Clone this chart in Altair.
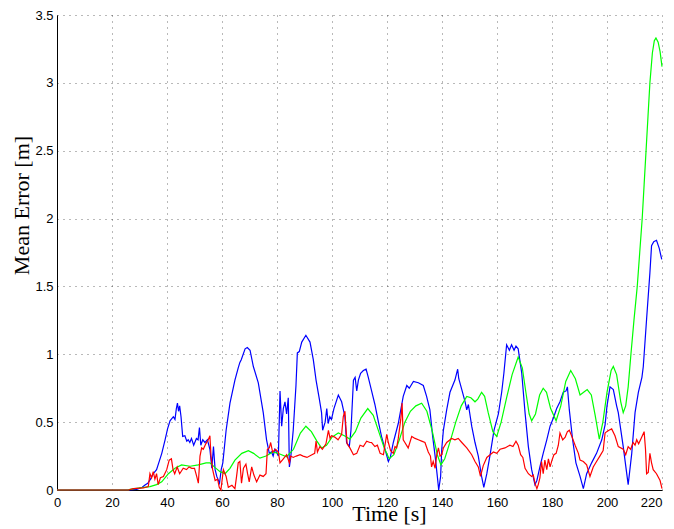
import altair as alt
import pandas as pd

# ---- data ----
blue_t = [0, 26, 29, 31, 32, 33, 34, 35, 36.2, 37, 38.1, 39.3, 40.2, 41.1, 42.3, 42.9, 43.4, 43.8, 44.2, 44.6,
          45.1, 45.7, 46.5, 47.2, 47.7, 48.3, 48.9, 49.7, 50.7, 51.3, 51.8, 52.3, 53, 53.8, 54.7, 55.6, 56.3, 56.9,
          57.5, 58.1, 59.1, 59.7, 60.3, 61.5, 62.9, 64.7, 65.9, 66.5, 67, 68.4, 69.2, 70.2, 71.4, 73.2, 75, 76.2,
          77.2, 78, 78.6, 79.2, 79.8, 80.5, 81.1, 81.7, 82.3, 82.9, 83.5, 84.1, 84.5, 85, 85.9, 86.9, 87.4, 88.1,
          89, 90.5, 92, 93.2, 94.2, 95.4, 96.2, 96.6, 97.5, 98.1, 98.6, 99.2, 99.8, 100.7, 102.3, 103.5, 104.7,
          105.3, 106.3, 106.9, 107.8, 108.4, 109, 109.6, 110.4, 111.4, 112.4, 113.2, 114.4, 115.6, 116.8, 118,
          119.3, 120.5, 121.2, 122.3, 124.1, 125.9, 127.2, 128.1, 129.6, 131.4, 133.2, 134.4, 135.6, 136.6, 137.5,
          138.3, 138.8, 139.5, 139.9, 140.5, 141.7, 142.9, 144.7, 145.7, 146.1, 147.2, 148.4, 149, 149.6, 150.8,
          152, 153.2, 154.4, 155.2, 156.3, 157.5, 158.9, 160.5, 161.7, 162.5, 163.5, 164.5, 165.3, 166.2, 166.9,
          167.7, 169, 170.2, 171.4, 172.6, 173.8, 174.5, 175.6, 176.8, 178.1, 179.3, 180.5, 181.7, 182.9, 184.1,
          185.1, 185.6, 186.3, 187.5, 188.7, 190.2, 191.4, 192.6, 194.4, 196.2, 198.1, 199.3, 200, 201.1, 202.3,
          203.5, 204.1, 205.9, 207.7, 209, 210.2, 211.4, 212.7, 213.2, 214.4, 215.6, 216.2, 217, 218, 219, 219.9]
blue_v = [0, 0, 0.005, 0.02, 0.037, 0.05, 0.08, 0.12, 0.15, 0.2, 0.27, 0.37, 0.45, 0.51, 0.54, 0.52, 0.6, 0.64,
          0.58, 0.62, 0.54, 0.395, 0.40, 0.36, 0.37, 0.35, 0.38, 0.33, 0.38, 0.37, 0.46, 0.33, 0.37, 0.35, 0.37,
          0.30, 0.16, 0.32, 0.15, 0.10, 0.05, 0.15, 0.20, 0.44, 0.64, 0.81, 0.90, 0.94, 0.96, 1.04, 1.05, 1.03,
          0.91, 0.79, 0.57, 0.37, 0.27, 0.28, 0.25, 0.30, 0.28, 0.25, 0.73, 0.47, 0.60, 0.65, 0.56, 0.68, 0.17,
          0.24, 0.44, 0.77, 1.01, 1.02, 1.09, 1.14, 1.09, 0.96, 0.81, 0.67, 0.57, 0.44, 0.50, 0.60, 0.49, 0.54,
          0.52, 0.60, 0.70, 0.65, 0.54, 0.35, 0.32, 0.44, 0.81, 0.83, 0.73, 0.81, 0.86, 0.88, 0.89, 0.83, 0.73,
          0.63, 0.51, 0.395, 0.30, 0.21, 0.24, 0.35, 0.49, 0.69, 0.77, 0.75, 0.80, 0.79, 0.77, 0.69, 0.59, 0.395,
          0.25, 0.10, 0.0, 0.10, 0.30, 0.44, 0.59, 0.72, 0.81, 0.89, 0.82, 0.74, 0.65, 0.59, 0.63, 0.47, 0.35,
          0.25, 0.10, 0.02, 0.12, 0.26, 0.44, 0.56, 0.72, 0.86, 1.07, 1.03, 1.07, 1.03, 1.06, 1.04, 0.86, 0.57,
          0.32, 0.15, 0.04, 0.07, 0.17, 0.27, 0.37, 0.47, 0.53, 0.60, 0.65, 0.72, 0.73, 0.76, 0.59, 0.37, 0.20,
          0.10, 0.01, 0.12, 0.20, 0.27, 0.37, 0.48, 0.62, 0.76, 0.74, 0.62, 0.57, 0.32, 0.04, 0.27, 0.57, 0.72,
          0.83, 0.91, 1.26, 1.60, 1.80, 1.83, 1.84, 1.78, 1.70]

green_t = [0, 26, 26.5, 30.2, 33.8, 36.2, 38.1, 40.5, 42.9, 45.3, 48.4, 51.4, 54.2, 55.6, 57.5, 59.3, 61.1, 62.9,
           64.7, 67.2, 69.6, 71.5, 73.8, 76, 78.6, 81, 83.5, 86, 88.5, 90.5, 92.5, 94.5, 96.2, 98, 100, 102.3,
           104.5, 106.5, 108.5, 110.5, 113, 115, 117, 119, 120.8, 122.5, 124.5, 126.5, 128.5, 130.5, 132.6, 134.5,
           136.5, 138.3, 139.6, 141, 143, 145, 147, 149, 150.5, 152, 153, 154.4, 155.5, 156.8, 158.5, 159.9, 161.5,
           163.5, 165.5, 167.7, 169.2, 170.5, 171.7, 172.6, 174, 175.5, 176.8, 178, 179.5, 181.5, 183.2, 185, 186.8,
           188.5, 190.2, 191.5, 192.8, 194.3, 195.7, 197.2, 198.5, 200, 201.5, 202.3, 203.5, 205, 205.9, 206.8,
           207.7, 208.7, 209.8, 211, 211.9, 212.8, 213.5, 214.2, 214.9, 215.6, 216.5, 217.2, 217.8, 218.6, 219.3, 220]
green_v = [0, 0, 0.005, 0.015, 0.025, 0.04, 0.06, 0.12, 0.16, 0.185, 0.175, 0.185, 0.20, 0.20, 0.165, 0.135, 0.12,
           0.16, 0.22, 0.27, 0.29, 0.27, 0.235, 0.25, 0.28, 0.265, 0.245, 0.30, 0.42, 0.47, 0.43, 0.36, 0.31, 0.33,
           0.39, 0.42, 0.40, 0.375, 0.43, 0.53, 0.60, 0.55, 0.43, 0.31, 0.23, 0.26, 0.37, 0.50, 0.58, 0.62, 0.64,
           0.58, 0.43, 0.26, 0.185, 0.23, 0.36, 0.50, 0.62, 0.69, 0.68, 0.65, 0.67, 0.72, 0.69, 0.57, 0.43, 0.395,
           0.50, 0.68, 0.85, 0.98, 0.90, 0.72, 0.56, 0.51, 0.56, 0.70, 0.75, 0.72, 0.60, 0.51, 0.62, 0.80, 0.88,
           0.82, 0.70, 0.72, 0.74, 0.70, 0.55, 0.375, 0.50, 0.72, 0.88, 0.91, 0.85, 0.65, 0.57, 0.62, 0.76, 1.0,
           1.25, 1.5, 1.75, 2.0, 2.25, 2.5, 2.75, 3.0, 3.22, 3.31, 3.33, 3.3, 3.23, 3.12]

red_t = [0, 26, 27.7, 31.4, 33.2, 33.8, 34.4, 35, 35.6, 36.2, 36.8, 37.6, 38.7, 39.9, 40.8, 41.6, 42.2, 42.8, 43.7,
         44.6, 45.9, 47.1, 48, 49, 50, 50.8, 51.4, 52, 52.6, 53.2, 54.1, 55, 55.6, 56, 56.6, 57.5, 58.4, 59, 59.6,
         60.5, 61.5, 62.3, 63.6, 64.7, 65.3, 65.9, 66.5, 67.1, 67.8, 68.7, 69.3, 69.9, 70.8, 71.6, 72.6, 73.8, 75,
         76, 76.5, 77.2, 77.7, 78.4, 79.5, 80.5, 81.1, 82.3, 83.5, 84.5, 85, 85.9, 87, 88.4, 89.5, 90.9, 92.7, 93.7,
         94.2, 94.7, 95.6, 96.5, 97.8, 98.7, 99.3, 99.8, 101, 102.2, 103.5, 104.1, 104.7, 105, 105.5, 106.5, 107.8,
         109, 110.2, 111.4, 112.6, 113.8, 114.4, 115.6, 116.5, 117.5, 118.7, 119.9, 120.5, 121.3, 122.3, 122.9,
         123.5, 124.1, 125, 125.5, 125.9, 126.5, 127.7, 129, 130.2, 131.4, 132.6, 133.8, 135, 135.8, 136.2, 136.8,
         137.5, 138.1, 138.7, 139.3, 139.9, 140.5, 141.7, 143.5, 144.7, 145.9, 147.2, 149, 150.8, 152, 153.2, 154,
         155, 156.3, 157.5, 158.7, 159.9, 161.1, 162.9, 164.7, 165.8, 166.9, 167.7, 168.6, 169.4, 170.2, 171.4,
         172.6, 173.2, 173.8, 174.5, 175, 175.6, 176.2, 176.8, 177.4, 178.1, 178.7, 179.3, 180, 180.7, 181.5,
         182.3, 182.9, 183.9, 184.8, 185.6, 186.3, 187.2, 188.4, 189.6, 190.2, 191.4, 192.6, 193.8, 195, 196.2,
         197.4, 198.6, 199.3, 199.9, 200.7, 201.7, 202.9, 204.1, 205.9, 206.8, 207.7, 208.6, 209.5, 210.2, 210.8,
         211.5, 212.4, 213.5, 214, 214.4, 215, 215.6, 216.2, 216.8, 218, 219.3, 220]
red_v = [0, 0, 0.01, 0.015, 0.025, 0.12, 0.09, 0.135, 0.08, 0.12, 0.04, 0.09, 0.10, 0.15, 0.22, 0.23, 0.15, 0.12,
         0.17, 0.12, 0.16, 0.15, 0.17, 0.16, 0.16, 0.10, 0.05, 0.25, 0.31, 0.30, 0.34, 0.37, 0.40, 0.25, 0.15,
         0.07, 0.08, 0.02, 0.0, 0.15, 0.10, 0.02, 0.035, 0.01, 0.10, 0.20, 0.21, 0.05, 0.16, 0.19, 0.12, 0.06,
         0.17, 0.11, 0.06, 0.11, 0.10, 0.12, 0.30, 0.31, 0.35, 0.28, 0.30, 0.28, 0.20, 0.23, 0.26, 0.20, 0.25,
         0.24, 0.25, 0.26, 0.25, 0.24, 0.26, 0.27, 0.36, 0.28, 0.32, 0.30, 0.34, 0.44, 0.38, 0.40, 0.39, 0.37,
         0.41, 0.54, 0.58, 0.48, 0.34, 0.31, 0.26, 0.27, 0.33, 0.32, 0.36, 0.35, 0.35, 0.32, 0.33, 0.27, 0.26,
         0.41, 0.35, 0.29, 0.27, 0.32, 0.31, 0.38, 0.52, 0.64, 0.37, 0.35, 0.31, 0.395, 0.38, 0.37, 0.36, 0.35,
         0.28, 0.25, 0.17, 0.21, 0.16, 0.26, 0.31, 0.25, 0.26, 0.31, 0.35, 0.38, 0.37, 0.38, 0.35, 0.31, 0.26,
         0.21, 0.17, 0.10, 0.18, 0.24, 0.26, 0.28, 0.27, 0.30, 0.31, 0.33, 0.32, 0.36, 0.33, 0.26, 0.24, 0.16,
         0.12, 0.10, 0.11, 0.05, 0.01, 0.04, 0.09, 0.21, 0.12, 0.22, 0.15, 0.23, 0.17, 0.22, 0.26, 0.27, 0.33,
         0.42, 0.37, 0.39, 0.43, 0.44, 0.395, 0.33, 0.27, 0.22, 0.21, 0.185, 0.10, 0.17, 0.21, 0.25, 0.29, 0.42,
         0.43, 0.44, 0.45, 0.40, 0.32, 0.30, 0.26, 0.32, 0.30, 0.35, 0.33, 0.37, 0.34, 0.38, 0.43, 0.30, 0.12,
         0.13, 0.27, 0.20, 0.15, 0.12, 0.07, 0.01]

x_ticks = list(range(0, 221, 20))
y_ticks = [0, 0.5, 1, 1.5, 2, 2.5, 3, 3.5]

series = [("blue", blue_t, blue_v, "#0000FF"),
          ("green", green_t, green_v, "#00FF00"),
          ("red", red_t, red_v, "#FF0000")]

x_axis = alt.Axis(values=x_ticks, title="Time [s]", ticks=False, labelPadding=6,
                  labelFlush=False, labelOverlap=False,
                  labelAlign=alt.expr("datum.value == 220 ? 'right' : 'center'"),
                  titleX=332, titleY=30, titleBaseline="alphabetic", titleAlign="center")
y_axis = alt.Axis(values=y_ticks, title="Mean Error [m]", ticks=False, labelPadding=4, format="~g",
                  labelFlush=False, labelOverlap=False,
                  titleX=-29, titleY=190, titleAngle=270, titleBaseline="alphabetic", titleAlign="center")
x_scale = alt.Scale(domain=[0, 220], nice=False, zero=False)
y_scale = alt.Scale(domain=[0, 3.5], nice=False)

layers = []
for name, t, v, col in series:
    df = pd.DataFrame({"t": t, "v": v})
    layers.append(
        alt.Chart(df).mark_line(color=col, strokeWidth=1.2, clip=False).encode(
            x=alt.X("t:Q", scale=x_scale, axis=x_axis),
            y=alt.Y("v:Q", scale=y_scale, axis=y_axis),
        )
    )

chart = alt.layer(*layers).properties(
    width=605, height=475,
    autosize=alt.AutoSizeParams(type="none"),
    padding={"left": 49, "top": 7, "right": 4, "bottom": 37},
    background="white",
).configure_view(stroke=None).configure_axis(
    labelFont="Liberation Sans", labelFontSize=13, labelColor="#000000",
    titleFont="Liberation Serif", titleFontSize=22, titleFontWeight="normal", titleColor="#000000",
    domainColor="#000000", domainWidth=1,
    grid=True, gridColor="#000000", gridOpacity=0.55, gridWidth=1, gridDash=[1, 5],
)

chart.save("out.html", embed_options={"renderer": "svg", "actions": False})
